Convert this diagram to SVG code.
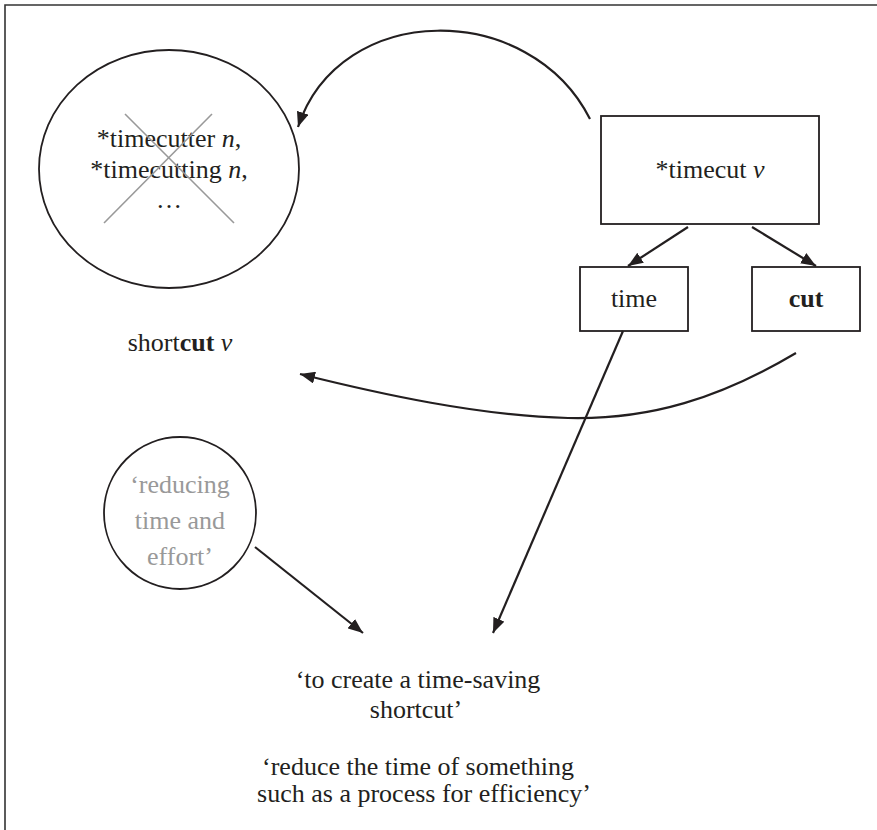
<svg xmlns="http://www.w3.org/2000/svg" width="877" height="830" viewBox="0 0 877 830">
<style>
text{font-family:"Liberation Serif","Times New Roman",serif;font-size:26px;fill:#231f20;text-anchor:middle}
.gray{fill:#999}
.node{fill:#fff;stroke:#231f20;stroke-width:1.8}
.edge{fill:none;stroke:#231f20;stroke-width:2.2}
.cross{stroke:#999;stroke-width:1.6}
</style>
<defs>
<marker id="ah" markerUnits="userSpaceOnUse" markerWidth="16" markerHeight="12" refX="15" refY="6" orient="auto">
<path d="M0,0 L15,6 L0,12 z" fill="#231f20"/>
</marker>
</defs>
<rect x="0" y="0" width="877" height="830" fill="#fff"/>
<path d="M5,830 L5,5 L877,5" fill="none" stroke="#333" stroke-width="1.6"/>

<g id="derivatives">
<ellipse class="node" cx="169" cy="169" rx="130" ry="119"/>
<text x="169" y="147">*timecutter <tspan font-style="italic">n</tspan>,</text>
<text x="169" y="178">*timecutting <tspan font-style="italic">n</tspan>,</text>
<text x="169" y="208">…</text>
<line class="cross" x1="125" y1="114" x2="234" y2="223"/>
<line class="cross" x1="212" y1="114" x2="104" y2="223"/>
</g>

<g id="timecut">
<rect class="node" x="601" y="116" width="218" height="108"/>
<text x="710" y="178">*timecut <tspan font-style="italic">v</tspan></text>
</g>

<g id="time">
<rect class="node" x="580" y="267" width="108" height="64"/>
<text x="634" y="307">time</text>
</g>

<g id="cut">
<rect class="node" x="752" y="267" width="108" height="64"/>
<text x="806" y="307" font-weight="bold">cut</text>
</g>

<g id="shortcut">
<text x="180" y="351">short<tspan font-weight="bold">cut</tspan> <tspan font-style="italic">v</tspan></text>
</g>

<g id="reducing">
<circle class="node" cx="180" cy="513" r="76"/>
<text class="gray" x="180" y="493">‘reducing</text>
<text class="gray" x="180" y="529">time and</text>
<text class="gray" x="180" y="565">effort’</text>
</g>

<g id="meaning">
<text x="418" y="688">‘to create a time-saving</text>
<text x="416" y="718">shortcut’</text>
<text x="418" y="775">‘reduce the time of something</text>
<text x="424" y="802">such as a process for efficiency’</text>
</g>

<g id="connectors">
<path class="edge" d="M590,119 C530,0 340,0 298,127" marker-end="url(#ah)"/>
<path class="edge" d="M688,227 L628,266" marker-end="url(#ah)"/>
<path class="edge" d="M752,227 L816,266" marker-end="url(#ah)"/>
<path class="edge" d="M796,353 C720,398 650,420 568,418 C480,416 380,394 300,374" marker-end="url(#ah)"/>
<path class="edge" d="M623,331 L493,633" marker-end="url(#ah)"/>
<path class="edge" d="M255,547 L363,633" marker-end="url(#ah)"/>
</g>
</svg>
